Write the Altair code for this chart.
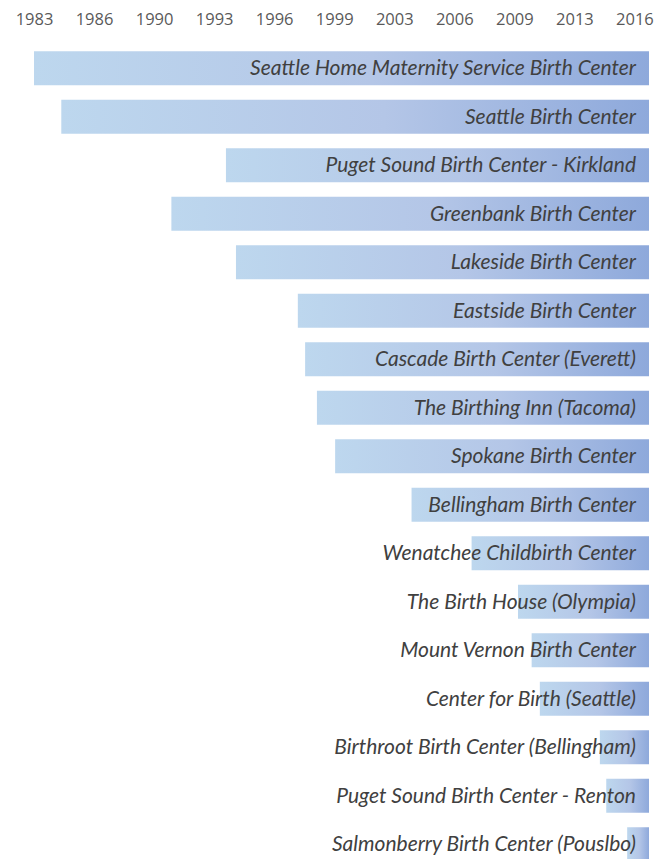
import altair as alt
import pandas as pd

centers = [
    "Seattle Home Maternity Service Birth Center",
    "Seattle Birth Center",
    "Puget Sound Birth Center - Kirkland",
    "Greenbank Birth Center",
    "Lakeside Birth Center",
    "Eastside Birth Center",
    "Cascade Birth Center (Everett)",
    "The Birthing Inn (Tacoma)",
    "Spokane Birth Center",
    "Bellingham Birth Center",
    "Wenatchee Childbirth Center",
    "The Birth House (Olympia)",
    "Mount Vernon Birth Center",
    "Center for Birth (Seattle)",
    "Birthroot Birth Center (Bellingham)",
    "Puget Sound Birth Center - Renton",
    "Salmonberry Birth Center (Pouslbo)",
]
start_year = [1983.0, 1984.5, 1993.55, 1990.55, 1994.1, 1997.5, 1997.9, 1998.55,
              1999.55, 2003.75, 2007.05, 2009.6, 2010.35, 2010.8, 2014.1, 2014.45, 2015.6]
end_year = 2016.8

tick_values = [1983 + 3.3 * k for k in range(11)]
tick_labels = ["1983", "1986", "1990", "1993", "1996", "1999", "2003", "2006", "2009", "2013", "2016"]

df = pd.DataFrame({"center": centers, "start": start_year, "end": [end_year] * len(centers)})

label_expr = "[" + ",".join(f"'{t}'" for t in tick_labels) + "][round((datum.value - 1983) / 3.3)]"

x_scale = alt.Scale(domain=[1983, end_year], nice=False, zero=False)
y_enc = alt.Y("center:N", sort=centers, axis=None,
              scale=alt.Scale(paddingInner=0.3, paddingOuter=0.15))

gradient = alt.Gradient(
    gradient="linear",
    stops=[alt.GradientStop(color="#BDD7EE", offset=0),
           alt.GradientStop(color="#B4C6E7", offset=0.55),
           alt.GradientStop(color="#8EA9DB", offset=1)],
    x1=0, x2=1, y1=0, y2=0,
)

bars = alt.Chart(df).mark_bar(color=gradient).encode(
    x=alt.X("start:Q", scale=x_scale,
            axis=alt.Axis(orient="top", values=tick_values, labelExpr=label_expr,
                          title=None, domain=False, ticks=False, grid=False,
                          labelFont="Open Sans", labelFontSize=16.5, labelColor="#595959",
                          labelPadding=17, labelFlush=False)),
    x2="end:Q",
    y=y_enc,
)

texts = alt.Chart(df).mark_text(
    align="right", baseline="middle", dx=-13, dy=1, font="Lato", fontStyle="italic",
    fontSize=21, color="#404040"
).encode(
    x=alt.X("end:Q", scale=x_scale),
    y=y_enc,
    text="center:N",
)

chart = alt.layer(bars, texts).properties(
    width=615,
    height=alt.Step(48.5),
    padding={"left": 26, "top": 36, "right": 6, "bottom": 0},
    autosize=alt.AutoSizeParams(type="none"),
).configure_view(stroke=None)

chart.save("out.html", embed_options={"renderer": "svg", "actions": False})
